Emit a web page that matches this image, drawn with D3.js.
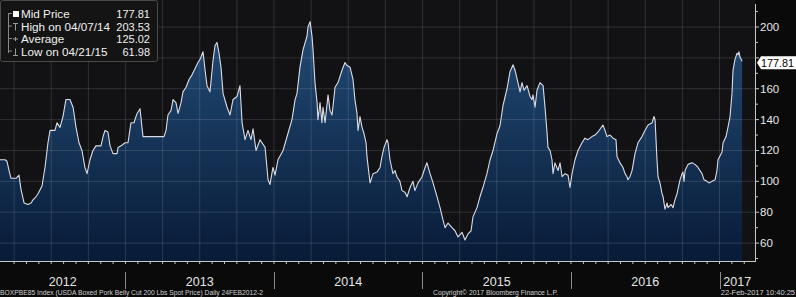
<!DOCTYPE html>
<html>
<head>
<meta charset="utf-8">
<script src="https://cdn.jsdelivr.net/npm/d3@7"></script>
<style>
  html, body { margin: 0; padding: 0; background: #0a0a0a; }
  svg { display: block; font-family: "Liberation Sans", Arial, sans-serif; }
</style>
</head>
<body>
<div class="canva"></div>
<script>
// weekly-ish readings, date as fractional year
const years = [
  2012.155, 2012.189, 2012.202, 2012.216, 2012.229, 2012.263, 2012.283, 2012.296, 2012.317, 2012.344,
  2012.364, 2012.377, 2012.397, 2012.411, 2012.438, 2012.458, 2012.478, 2012.492, 2012.525, 2012.539,
  2012.559, 2012.579, 2012.599, 2012.626, 2012.647, 2012.667, 2012.687, 2012.707, 2012.727, 2012.741,
  2012.761, 2012.781, 2012.801, 2012.835, 2012.849, 2012.862, 2012.882, 2012.896, 2012.916, 2012.943,
  2012.950, 2012.970, 2012.997, 2013.017, 2013.037, 2013.057, 2013.078, 2013.098, 2013.111, 2013.118,
  2013.259, 2013.273, 2013.286, 2013.307, 2013.320, 2013.340, 2013.354, 2013.374, 2013.387, 2013.408,
  2013.428, 2013.448, 2013.468, 2013.488, 2013.502, 2013.522, 2013.536, 2013.549, 2013.569, 2013.589,
  2013.603, 2013.616, 2013.630, 2013.643, 2013.657, 2013.684, 2013.704, 2013.724, 2013.751, 2013.771,
  2013.785, 2013.805, 2013.825, 2013.845, 2013.859, 2013.879, 2013.906, 2013.940, 2013.960, 2013.973,
  2013.993, 2014.007, 2014.027, 2014.061, 2014.094, 2014.121, 2014.142, 2014.155, 2014.175, 2014.195,
  2014.222, 2014.229, 2014.243, 2014.256, 2014.263, 2014.276, 2014.290, 2014.296, 2014.310, 2014.323,
  2014.330, 2014.344, 2014.364, 2014.377, 2014.391, 2014.411, 2014.431, 2014.458, 2014.478, 2014.492,
  2014.512, 2014.532, 2014.545, 2014.559, 2014.566, 2014.579, 2014.593, 2014.606, 2014.620, 2014.626,
  2014.647, 2014.667, 2014.694, 2014.714, 2014.727, 2014.741, 2014.761, 2014.768, 2014.781, 2014.801,
  2014.815, 2014.828, 2014.848, 2014.862, 2014.882, 2014.896, 2014.916, 2014.936, 2014.949, 2014.970,
  2014.997, 2015.017, 2015.030, 2015.051, 2015.071, 2015.098, 2015.118, 2015.138, 2015.152, 2015.172,
  2015.199, 2015.219, 2015.239, 2015.266, 2015.286, 2015.307, 2015.327, 2015.340, 2015.367, 2015.387,
  2015.407, 2015.434, 2015.455, 2015.475, 2015.502, 2015.522, 2015.542, 2015.569, 2015.589, 2015.610,
  2015.623, 2015.643, 2015.657, 2015.670, 2015.684, 2015.704, 2015.724, 2015.737, 2015.744, 2015.758,
  2015.771, 2015.791, 2015.812, 2015.825, 2015.839, 2015.845, 2015.859, 2015.872, 2015.879, 2015.892,
  2015.913, 2015.926, 2015.940, 2015.960, 2015.980, 2015.993, 2016.007, 2016.027, 2016.047, 2016.074,
  2016.094, 2016.114, 2016.141, 2016.162, 2016.182, 2016.215, 2016.229, 2016.242, 2016.263, 2016.283,
  2016.303, 2016.310, 2016.330, 2016.350, 2016.364, 2016.377, 2016.384, 2016.397, 2016.411, 2016.431,
  2016.451, 2016.478, 2016.498, 2016.519, 2016.546, 2016.559, 2016.566, 2016.579, 2016.586, 2016.599,
  2016.613, 2016.620, 2016.633, 2016.647, 2016.653, 2016.674, 2016.687, 2016.700, 2016.714, 2016.734,
  2016.748, 2016.754, 2016.761, 2016.768, 2016.788, 2016.815, 2016.835, 2016.855, 2016.882, 2016.896,
  2016.916, 2016.929, 2016.950, 2016.970, 2016.983, 2016.990, 2017.017, 2017.024, 2017.044, 2017.057,
  2017.071, 2017.084, 2017.091, 2017.104, 2017.118, 2017.125, 2017.131, 2017.138, 2017.152
];
const prices = [
  114, 114, 113, 107, 102, 102, 104, 95, 86, 85,
  86, 88, 90, 92, 97, 109, 125, 133, 133, 138,
  135, 142, 153, 153, 148, 135, 125, 120, 109, 105,
  114, 120, 123, 123, 129, 133, 132, 123, 118, 118,
  122, 123, 125, 125, 138, 138, 144, 147, 135, 129,
  129, 133, 143, 146, 153, 151, 144, 151, 158, 161,
  166, 169, 173, 177, 179, 184, 172, 162, 158, 178,
  188, 190, 183, 174, 157, 148, 143, 153, 155, 162,
  138, 127, 133, 127, 134, 120, 127, 122, 101, 98,
  109, 104, 114, 120, 131, 140, 153, 157, 174, 185,
  194, 200, 203.5, 194, 185, 164, 151, 140, 151, 138,
  148, 138, 156, 146, 143, 161, 164, 172, 177, 175,
  174, 166, 153, 144, 133, 142, 135, 131, 125, 116,
  99, 105, 106, 109, 116, 122, 127, 125, 114, 105,
  107, 103, 100, 94, 93, 90, 96, 100, 94, 99,
  103, 109, 112, 105, 99, 90, 83, 75, 70, 73,
  70, 68, 64, 67, 62, 66, 68, 77, 83, 90,
  96, 105, 114, 120, 131, 136, 149, 160, 171, 175.5,
  172, 164, 158, 164, 159, 162, 155, 153, 156, 148,
  159, 164, 162, 148, 131, 122, 120, 114, 105, 112,
  107, 112, 103, 105, 104, 96, 105, 114, 120, 125,
  128, 127, 129, 130, 132, 136.5, 133, 129, 130, 128,
  127, 116, 112, 109, 105, 103, 101, 103, 107, 118,
  125, 129, 133, 136.5, 138, 142, 140, 114, 103, 99,
  92, 90, 82, 86, 83, 85, 83, 88, 92, 101,
  105, 106, 100, 107, 111, 112, 111, 109, 105, 101,
  100, 99, 100, 101, 107, 114, 119, 125, 129, 135,
  142, 157, 172, 179, 183, 182, 184, 180.5, 177.81
];
const yTicks = [60, 80, 100, 120, 140, 160, 180, 200];
const yearLabels = [2012, 2013, 2014, 2015, 2016, 2017];
const legendLabels = ["Mid Price", "High on 04/07/14", "Average", "Low on 04/21/15"];
const legendValues = ["177.81", "203.53", "125.02", "61.98"];
const lastPrice = 177.81;
const footLeft = "BOXPBE85 Index (USDA Boxed Pork Belly Cut 200 Lbs Spot Price)  Daily 24FEB2012-2";
const footMid = "Copyright\u00a9 2017 Bloomberg Finance L.P.";
const footRight = "22-Feb-2017 10:40:25";

const W = 796, H = 297;
const plotRight = 755, plotBottom = 261;

const data = years.map((t, i) => ({ t: t, v: prices[i] }));

const svg = d3.select(".canva").append("svg")
    .attr("width", W)
    .attr("height", H);

const x = d3.scaleLinear().domain([2012.155, 2017.239]).range([0, plotRight]);
const y = d3.scaleLinear().domain([48.4, 217.5]).range([plotBottom, 0]);

svg.append("rect")
    .attr("x", 0).attr("y", 0)
    .attr("width", plotRight).attr("height", plotBottom)
    .attr("fill", "#121215");

const grad = svg.append("defs").append("linearGradient")
    .attr("id", "fill")
    .attr("gradientUnits", "userSpaceOnUse")
    .attr("x1", 0).attr("y1", 0).attr("x2", 0).attr("y2", plotBottom);
grad.append("stop").attr("offset", "0%").attr("stop-color", "#25507c");
grad.append("stop").attr("offset", "100%").attr("stop-color", "#081b37");

const area = d3.area()
    .x(d => x(d.t))
    .y0(plotBottom)
    .y1(d => y(d.v));

svg.append("path")
    .datum(data)
    .attr("d", area)
    .attr("fill", "url(#fill)");

// grid: quarterly verticals, every 20 horizontally
const quarters = d3.range(2012.25, 2017.2, 0.25);
svg.append("g").selectAll("line")
    .data(quarters)
    .join("line")
    .attr("x1", d => x(d)).attr("x2", d => x(d))
    .attr("y1", 0).attr("y2", plotBottom)
    .attr("stroke", "#ffffff")
    .attr("stroke-opacity", 0.13);

svg.append("g").selectAll("line")
    .data(yTicks)
    .join("line")
    .attr("x1", 0).attr("x2", plotRight)
    .attr("y1", d => y(d)).attr("y2", d => y(d))
    .attr("stroke", "#ffffff")
    .attr("stroke-opacity", 0.13);

const line = d3.line()
    .x(d => x(d.t))
    .y(d => y(d.v));

svg.append("path")
    .datum(data)
    .attr("d", line)
    .attr("fill", "none")
    .attr("stroke", "#dcdce4")
    .attr("stroke-width", 1.1)
    .attr("stroke-linejoin", "round");

// bottom axis
svg.append("line")
    .attr("x1", 0).attr("x2", plotRight)
    .attr("y1", plotBottom + 0.5).attr("y2", plotBottom + 0.5)
    .attr("stroke", "#c8c8c8");

const months = d3.range(2012 + 3 / 12, 2017.2, 1 / 12);
svg.append("g").selectAll("line")
    .data(months)
    .join("line")
    .attr("x1", d => x(d)).attr("x2", d => x(d))
    .attr("y1", plotBottom).attr("y2", plotBottom + 3)
    .attr("stroke", "#c8c8c8");

svg.append("g").selectAll("line")
    .data(yearLabels.slice(1))
    .join("line")
    .attr("x1", d => Math.round(x(d)) + 0.5).attr("x2", d => Math.round(x(d)) + 0.5)
    .attr("y1", 272).attr("y2", 289)
    .attr("stroke", "#8a8a8a");

svg.append("g").selectAll("text")
    .data(yearLabels)
    .join("text")
    .attr("x", d => (Math.max(0, x(d)) + Math.min(plotRight, x(d + 1))) / 2)
    .attr("y", 286)
    .attr("text-anchor", "middle")
    .attr("fill", "#e6e6e6")
    .attr("font-size", 12.5)
    .text(d => d);

// right axis
svg.append("line")
    .attr("x1", plotRight + 0.5).attr("x2", plotRight + 0.5)
    .attr("y1", 4).attr("y2", plotBottom + 1)
    .attr("stroke", "#c8c8c8");

const minor = d3.range(50, 220, 20);
svg.append("g").selectAll("line")
    .data(minor)
    .join("line")
    .attr("x1", plotRight).attr("x2", plotRight + 3)
    .attr("y1", d => y(d)).attr("y2", d => y(d))
    .attr("stroke", "#c8c8c8");

svg.append("g").selectAll("line")
    .data(yTicks)
    .join("line")
    .attr("x1", plotRight).attr("x2", plotRight + 4)
    .attr("y1", d => y(d)).attr("y2", d => y(d))
    .attr("stroke", "#c8c8c8");

svg.append("g").selectAll("text")
    .data(yTicks.filter(d => Math.abs(y(d) - y(lastPrice)) > 10))
    .join("text")
    .attr("x", plotRight + 5)
    .attr("y", d => y(d) + 4)
    .attr("fill", "#e6e6e6")
    .attr("font-size", 11.5)
    .text(d => d);

// last price tag
const ly = y(lastPrice) + 1.5;
svg.append("path")
    .attr("d", `M${plotRight + 2},${ly} L${plotRight + 6},${ly - 6.5} L${W},${ly - 6.5} L${W},${ly + 6.5} L${plotRight + 6},${ly + 6.5} Z`)
    .attr("fill", "#ffffff");
svg.append("text")
    .attr("x", plotRight + 6)
    .attr("y", ly + 4)
    .attr("fill", "#000000")
    .attr("font-size", 11)
    .attr("textLength", 33)
    .attr("lengthAdjust", "spacingAndGlyphs")
    .text(lastPrice.toFixed(2));

// legend
const lg = svg.append("g");
lg.append("rect")
    .attr("x", 0.5).attr("y", 0.5)
    .attr("width", 157).attr("height", 61)
    .attr("rx", 2)
    .attr("fill", "#141414")
    .attr("stroke", "#4a4a4a");

const rowY = [18, 30.5, 43, 55.5];
lg.append("line")
    .attr("x1", 8.5).attr("x2", 8.5)
    .attr("y1", 13).attr("y2", 53)
    .attr("stroke", "#888");
lg.selectAll(".conn")
    .data(rowY)
    .join("line")
    .attr("x1", 8.5).attr("x2", 12)
    .attr("y1", d => d - 4.5).attr("y2", d => d - 4.5)
    .attr("stroke", "#888");
lg.append("rect")
    .attr("x", 13).attr("y", 11)
    .attr("width", 6).attr("height", 6)
    .attr("fill", "#ffffff");
// small marker glyphs for high / avg / low
lg.append("path")
    .attr("d", `M13,${rowY[1] - 7} H18 M15.5,${rowY[1] - 7} V${rowY[1]}`)
    .attr("stroke", "#999").attr("fill", "none");
lg.append("path")
    .attr("d", `M13,${rowY[2] - 4} H18 M15.5,${rowY[2] - 6} V${rowY[2] - 2}`)
    .attr("stroke", "#999").attr("fill", "none");
lg.append("path")
    .attr("d", `M13,${rowY[3]} H18 M15.5,${rowY[3] - 7} V${rowY[3]}`)
    .attr("stroke", "#999").attr("fill", "none");

lg.selectAll(".lab")
    .data(legendLabels)
    .join("text")
    .attr("x", 21)
    .attr("y", (d, i) => rowY[i])
    .attr("fill", "#f0f0f0")
    .attr("font-size", 11.7)
    .text(d => d);

lg.selectAll(".val")
    .data(legendValues)
    .join("text")
    .attr("x", 150)
    .attr("y", (d, i) => rowY[i])
    .attr("text-anchor", "end")
    .attr("fill", "#f0f0f0")
    .attr("font-size", 11)
    .text(d => d);

// footer
svg.append("text")
    .attr("x", 0).attr("y", 294.5)
    .attr("fill", "#d0d0d0")
    .attr("font-size", 7)
    .attr("textLength", 263)
    .attr("lengthAdjust", "spacingAndGlyphs")
    .text(footLeft);

svg.append("text")
    .attr("x", 433).attr("y", 294.5)
    .attr("fill", "#d0d0d0")
    .attr("font-size", 7)
    .attr("textLength", 125)
    .attr("lengthAdjust", "spacingAndGlyphs")
    .text(footMid);

svg.append("text")
    .attr("x", 795).attr("y", 294.5)
    .attr("text-anchor", "end")
    .attr("fill", "#d0d0d0")
    .attr("font-size", 7.5)
    .text(footRight);
</script>
</body>
</html>
